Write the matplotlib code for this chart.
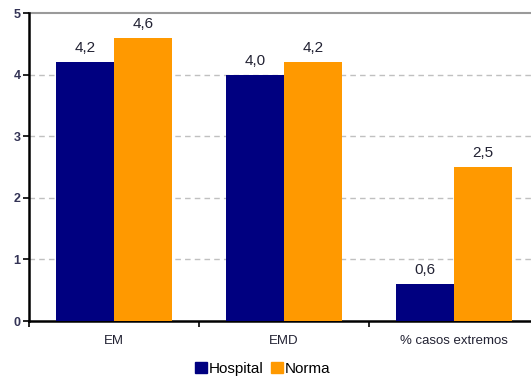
import matplotlib
matplotlib.use("Agg")
import matplotlib.pyplot as plt
import numpy as np
from matplotlib.patches import Patch

plt.rcParams['font.family'] = ['Liberation Sans', 'DejaVu Sans']

categories = ["EM", "EMD", "% casos extremos"]
hospital = [4.2, 4.0, 0.6]
norma = [4.6, 4.2, 2.5]
series_names = ["Hospital", "Norma"]
y_ticks = [0, 1, 2, 3, 4, 5]

c_hosp = "#000080"
c_norma = "#FF9900"

fig = plt.figure(figsize=(5.31, 3.78), dpi=100)
ax = fig.add_axes([29 / 531, 1 - 321 / 378, 510 / 531, 308 / 378])

x = np.arange(len(categories))
w = 0.34
ax.bar(x - w / 2, hospital, w, color=c_hosp, zorder=3)
ax.bar(x + w / 2, norma, w, color=c_norma, zorder=3)

def fmt(v):
    return f"{v:.1f}".replace(".", ",")

for xi, v in zip(x - w / 2, hospital):
    ax.annotate(fmt(v), (xi, v), xytext=(0, 5), textcoords="offset points",
                ha="center", va="bottom", fontsize=11, color="#222233")
for xi, v in zip(x + w / 2, norma):
    ax.annotate(fmt(v), (xi, v), xytext=(0, 5), textcoords="offset points",
                ha="center", va="bottom", fontsize=11, color="#222233")

ax.set_xlim(-0.5, len(categories) - 0.5)
ax.set_ylim(0, 5)
ax.set_yticks(y_ticks)
ax.set_yticklabels([str(t) for t in y_ticks], fontsize=9, fontweight="bold", color="#333355")

for t in y_ticks[1:-1]:
    ax.axhline(t, color="#c0c0c0", lw=1, ls=(0, (4, 3)), zorder=1)
ax.axhline(5, color="#9a9a9a", lw=1.5, zorder=1, clip_on=False)

ax.set_xticks(np.arange(len(categories) + 1) - 0.5, minor=False)
ax.set_xticklabels([])
ax.set_xticks(x, minor=True)
ax.set_xticklabels(categories, minor=True, fontsize=9.5, color="#222233")
ax.tick_params(axis="x", which="minor", length=0, pad=10)
ax.tick_params(axis="x", which="major", length=4, width=1.2, direction="out")
ax.tick_params(axis="y", length=4, width=1.2, direction="out", pad=2)

for s in ["top", "right"]:
    ax.spines[s].set_visible(False)
ax.spines["left"].set_linewidth(1.8)
ax.spines["bottom"].set_linewidth(1.8)

handles = [Patch(color=c_hosp), Patch(color=c_norma)]
fig.legend(handles, series_names, loc="center", bbox_to_anchor=(263 / 531, 1 - 369 / 378),
           ncol=2, frameon=False, fontsize=11, handlelength=0.75, handleheight=0.75,
           handletextpad=0.15, columnspacing=0.5, borderpad=0)

fig.savefig("out.png", dpi=100)
